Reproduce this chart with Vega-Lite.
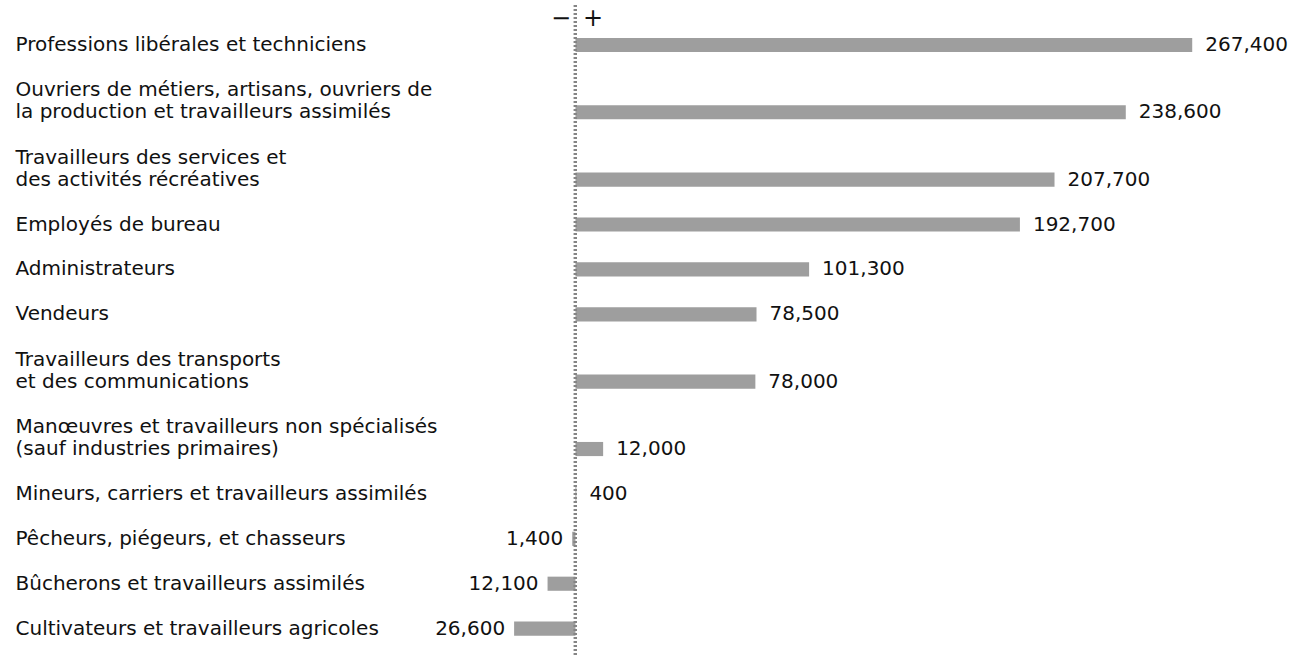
{
  "$schema": "https://vega.github.io/schema/vega-lite/v6.json",
  "autosize": "none",
  "width": 1302,
  "height": 651,
  "padding": {"top": 5, "left": 0, "right": 0, "bottom": 0},
  "background": "white",
  "config": {
    "view": {"stroke": null},
    "font": "DejaVu Sans"
  },
  "data": {
    "values": [
      {"occupation": "Professions libérales et techniciens", "value": 267400},
      {"occupation": "Ouvriers de métiers, artisans, ouvriers de|la production et travailleurs assimilés", "value": 238600},
      {"occupation": "Travailleurs des services et|des activités récréatives", "value": 207700},
      {"occupation": "Employés de bureau", "value": 192700},
      {"occupation": "Administrateurs", "value": 101300},
      {"occupation": "Vendeurs", "value": 78500},
      {"occupation": "Travailleurs des transports|et des communications", "value": 78000},
      {"occupation": "Manœuvres et travailleurs non spécialisés|(sauf industries primaires)", "value": 12000},
      {"occupation": "Mineurs, carriers et travailleurs assimilés", "value": 400},
      {"occupation": "Pêcheurs, piégeurs, et chasseurs", "value": -1400},
      {"occupation": "Bûcherons et travailleurs assimilés", "value": -12100},
      {"occupation": "Cultivateurs et travailleurs agricoles", "value": -26600}
    ]
  },
  "transform": [
    {"calculate": "format(abs(datum.value), ',')", "as": "label"}
  ],
  "encoding": {
    "y": {
      "field": "occupation",
      "type": "nominal",
      "sort": null,
      "scale": {
        "domain": [
          "Professions libérales et techniciens",
          " ", "  ",
          "Ouvriers de métiers, artisans, ouvriers de|la production et travailleurs assimilés",
          "   ", "    ",
          "Travailleurs des services et|des activités récréatives",
          "     ",
          "Employés de bureau",
          "      ",
          "Administrateurs",
          "       ",
          "Vendeurs",
          "        ", "         ",
          "Travailleurs des transports|et des communications",
          "          ", "           ",
          "Manœuvres et travailleurs non spécialisés|(sauf industries primaires)",
          "            ",
          "Mineurs, carriers et travailleurs assimilés",
          "             ",
          "Pêcheurs, piégeurs, et chasseurs",
          "              ",
          "Bûcherons et travailleurs assimilés",
          "               ",
          "Cultivateurs et travailleurs agricoles"
        ],
        "paddingInner": 0,
        "paddingOuter": 1.15,
        "align": 0.64
      },
      "axis": {
        "title": null,
        "domain": false,
        "ticks": false,
        "grid": false,
        "labelExpr": "split(datum.label, '|')",
        "labelAlign": "left",
        "labelBaseline": "bottom",
        "labelOffset": {"condition": {"test": "indexof(datum.value, '|') >= 0", "value": -12}, "value": 10},
        "labelPadding": -15,
        "labelLimit": 0,
        "labelFont": "DejaVu Sans",
        "labelFontSize": 20,
        "labelLineHeight": 22,
        "labelColor": "#111111",
        "labelOverlap": false
      }
    }
  },
  "layer": [
    {
      "mark": {"type": "bar", "color": "#9e9e9e", "height": {"band": 0.63}},
      "encoding": {
        "x": {
          "field": "value",
          "type": "quantitative",
          "scale": {"domain": [-249500, 315000], "nice": false},
          "axis": {
            "orient": "top",
            "title": null,
            "domain": false,
            "ticks": false,
            "grid": false,
            "values": [-6500, 7400],
            "labelExpr": "datum.value < 0 ? '−' : '+'",
            "labelFont": "DejaVu Sans",
            "labelFontSize": 24,
            "labelPadding": -25,
            "labelColor": "#111111",
            "labelOverlap": false,
            "labelFlush": false
          }
        }
      }
    },
    {
      "mark": {"type": "rule", "color": "#858585", "strokeWidth": 3, "strokeDash": [2, 2]},
      "encoding": {"x": {"datum": 0, "type": "quantitative"}, "y": null}
    },
    {
      "transform": [{"filter": "datum.value > 0"}],
      "mark": {"type": "text", "align": "left", "baseline": "middle", "dx": 13, "font": "DejaVu Sans", "fontSize": 20, "color": "#111111"},
      "encoding": {
        "x": {"field": "value", "type": "quantitative"},
        "text": {"field": "label"}
      }
    },
    {
      "transform": [{"filter": "datum.value < 0"}],
      "mark": {"type": "text", "align": "right", "baseline": "middle", "dx": -9, "font": "DejaVu Sans", "fontSize": 20, "color": "#111111"},
      "encoding": {
        "x": {"field": "value", "type": "quantitative"},
        "text": {"field": "label"}
      }
    }
  ]
}
